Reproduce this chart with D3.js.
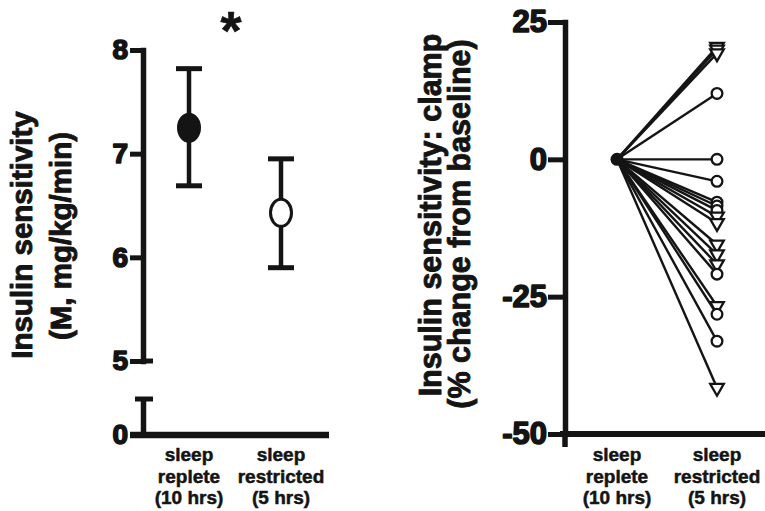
<!DOCTYPE html>
<html><head><meta charset="utf-8">
<script src="https://cdn.jsdelivr.net/npm/d3@7"></script>
<style>
body{margin:0;background:#fff}
svg{display:block}
text{font-family:"Liberation Sans",Arial,Helvetica,sans-serif;font-weight:bold;fill:#141414;stroke:#141414;stroke-width:0.6px;stroke-linejoin:round}
.tick text{font-weight:bold;stroke:#141414;stroke-width:1.6px}
</style>
</head><body><svg id="chart" width="765" height="511"></svg>
<script>
// ---- data ----
const groups = ["replete", "restricted"];
const groupLabels = [["sleep", "replete", "(10 hrs)"], ["sleep", "restricted", "(5 hrs)"]];
const meanM = [7.25, 6.43];
const upperM = [7.82, 6.95];
const lowerM = [6.69, 5.90];
const leftTicks = [5, 6, 7, 8];
const leftLowTicks = [0];
const rightTicks = [-50, -25, 0, 25];
const baselineChange = 0;
const restrictedChange = [20.5, 20, 19.3, 12, 0, -4, -7.8, -8.5, -9.3, -10.4, -11.6, -15.5, -17.3, -19.1, -20.9, -26.7, -28.2, -33.1, -41.6];
const subjectMarker = ["tri","tri","tri","circ","circ","circ","circ","circ","circ","tri","tri","tri","tri","tri","circ","tri","circ","circ","tri"];
const leftTitle = ["Insulin sensitivity", "(M, mg/kg/min)"];
const rightTitle = ["Insulin sensitivity: clamp", "(% change from baseline)"];
const sigMark = "*";

// ---- drawing ----
const ink = "#141414";
const svg = d3.select("#chart");
const fmt = d => String(d);

function styleAxis(g, fs) {
  g.attr("font-family", null).attr("font-size", null);
  g.select(".domain").attr("stroke", ink).attr("stroke-width", 5.5).attr("stroke-linecap", "square");
  g.selectAll(".tick line").attr("stroke", ink).attr("stroke-width", 5);
  g.selectAll(".tick text").style("font-size", fs + "px").attr("fill", ink)
    .attr("stroke", ink).attr("stroke-width", 1.6);
}

// LEFT PANEL
const xL = d3.scalePoint().domain(groups).range([189, 281]);
const yL = d3.scaleLinear().domain([5, 8]).range([361, 50]);
const yL0 = d3.scaleLinear().domain([0, 0.37]).range([435, 397]);
const axL = 143;

const gUp = svg.append("g").attr("transform", `translate(${axL},0)`)
  .call(d3.axisLeft(yL).tickValues(leftTicks).tickSize(13).tickSizeOuter(0).tickPadding(2).tickFormat(fmt));
styleAxis(gUp, 28);
const gLo = svg.append("g").attr("transform", `translate(${axL},0)`)
  .call(d3.axisLeft(yL0).tickValues(leftLowTicks).tickSize(13).tickSizeOuter(0).tickPadding(2).tickFormat(fmt));
styleAxis(gLo, 28);
gLo.select(".domain").attr("stroke-linecap", "butt");

// break caps
svg.append("line").attr("x1", axL).attr("x2", axL + 10).attr("y1", yL(5)).attr("y2", yL(5)).attr("stroke", ink).attr("stroke-width", 5);
svg.append("line").attr("x1", axL - 8).attr("x2", axL + 10).attr("y1", yL0(0.37) + 2).attr("y2", yL0(0.37) + 2).attr("stroke", ink).attr("stroke-width", 5);
// x axis
svg.append("line").attr("x1", axL - 13).attr("x2", 329).attr("y1", yL0(0)).attr("y2", yL0(0)).attr("stroke", ink).attr("stroke-width", 6.5);

// error bars
const eb = svg.append("g").selectAll("g").data(groups).join("g");
eb.append("line").attr("x1", d => xL(d)).attr("x2", d => xL(d))
  .attr("y1", (d, i) => yL(lowerM[i])).attr("y2", (d, i) => yL(upperM[i])).attr("stroke", ink).attr("stroke-width", 4.5);
eb.append("line").attr("x1", d => xL(d) - 13).attr("x2", d => xL(d) + 13)
  .attr("y1", (d, i) => yL(upperM[i])).attr("y2", (d, i) => yL(upperM[i])).attr("stroke", ink).attr("stroke-width", 5);
eb.append("line").attr("x1", d => xL(d) - 13).attr("x2", d => xL(d) + 13)
  .attr("y1", (d, i) => yL(lowerM[i])).attr("y2", (d, i) => yL(lowerM[i])).attr("stroke", ink).attr("stroke-width", 5);
eb.append("ellipse").attr("cx", d => xL(d)).attr("cy", (d, i) => yL(meanM[i]))
  .attr("rx", 10.5).attr("ry", 13.5).attr("fill", (d, i) => i === 0 ? ink : "#fff").attr("stroke", ink).attr("stroke-width", 3);

// significance star
svg.append("text").attr("x", (xL(groups[0]) + xL(groups[1])) / 2 - 4).attr("y", 49)
  .attr("text-anchor", "middle").style("font-size", "54px").text(sigMark);

function xLabels(xs) {
  groups.forEach((g, i) => {
    const t = svg.append("text").attr("text-anchor", "middle").style("font-size", "19px").style("stroke-width", "0.5px");
    groupLabels[i].forEach((line, j) => {
      t.append("tspan").attr("x", xs(g)).attr("y", 461 + j * 21.5).text(line);
    });
  });
}
xLabels(xL);

// left title
[[32, 235], [71, 236]].forEach((p, i) => {
  svg.append("text").attr("transform", `translate(${p[0]},${p[1]}) rotate(-90)`)
    .attr("text-anchor", "middle").style("font-size", "29.5px").style("stroke-width", "0.9px").text(leftTitle[i]);
});

// RIGHT PANEL
const xR = d3.scalePoint().domain(groups).range([617, 717]);
const yR = d3.scaleLinear().domain([-50, 25]).range([434, 22]);
const axR = 565;

const gR = svg.append("g").attr("transform", `translate(${axR},0)`)
  .call(d3.axisLeft(yR).tickValues(rightTicks).tickSize(17).tickSizeOuter(0).tickPadding(1).tickFormat(fmt));
styleAxis(gR, 31);
svg.append("line").attr("x1", axR).attr("x2", axR).attr("y1", yR(-50)).attr("y2", yR(-50) + 13).attr("stroke", ink).attr("stroke-width", 5.5);
svg.append("line").attr("x1", axR - 5).attr("x2", 765).attr("y1", yR(-50)).attr("y2", yR(-50)).attr("stroke", ink).attr("stroke-width", 6);

// subject lines
svg.append("g").selectAll("line").data(restrictedChange).join("line")
  .attr("x1", xR(groups[0])).attr("y1", yR(baselineChange))
  .attr("x2", xR(groups[1])).attr("y2", d => yR(d))
  .attr("stroke", ink).attr("stroke-width", 2.4);
// end markers
svg.append("g").selectAll("path").data(restrictedChange).join("path")
  .attr("d", (d, i) => subjectMarker[i] === "tri"
    ? d3.symbol(d3.symbolTriangle, 80)()
    : d3.symbol(d3.symbolCircle, 90)())
  .attr("transform", (d, i) => `translate(${xR(groups[1])},${yR(d)})` + (subjectMarker[i] === "tri" ? " rotate(180)" : ""))
  .attr("fill", "#fff").attr("stroke", ink).attr("stroke-width", 2.3);
// start point
svg.append("circle").attr("cx", xR(groups[0])).attr("cy", yR(baselineChange)).attr("r", 6.5).attr("fill", ink);

xLabels(xR);

// right title
[[441, 215], [470, 224]].forEach((p, i) => {
  svg.append("text").attr("transform", `translate(${p[0]},${p[1]}) rotate(-90)`)
    .attr("text-anchor", "middle").style("font-size", "30.5px").style("stroke-width", "0.9px").text(rightTitle[i]);
});
</script>
</body></html>
